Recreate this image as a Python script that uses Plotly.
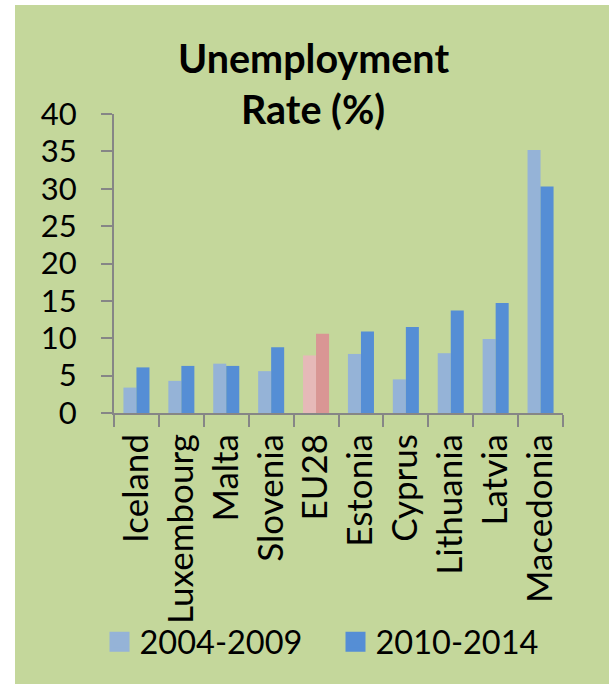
import plotly.graph_objects as go

countries = ["Iceland", "Luxembourg", "Malta", "Slovenia", "EU28", "Estonia",
             "Cyprus", "Lithuania", "Latvia", "Macedonia"]
rate_2004_2009 = [3.4, 4.3, 6.6, 5.6, 7.7, 7.9, 4.5, 8.0, 9.9, 35.2]
rate_2010_2014 = [6.1, 6.3, 6.3, 8.8, 10.6, 10.9, 11.5, 13.7, 14.7, 30.3]
series_names = ["2004-2009", "2010-2014"]
y_ticks = [0, 5, 10, 15, 20, 25, 30, 35, 40]

light_blue = "#95B3D7"
dark_blue = "#558ED5"
light_red = "#E6B9B8"
dark_red = "#D99694"
green = "#C4D79B"

c1 = [light_red if c == "EU28" else light_blue for c in countries]
c2 = [dark_red if c == "EU28" else dark_blue for c in countries]

W, H = 609, 684
L, R, T, B = 114, 46, 114, 271
pw = W - L - R
ph = H - T - B

def px_x(x):
    return (x - L) / pw

def px_y(y):
    return (H - B - y) / ph

font = "Lato, Carlito, Calibri, sans-serif"

fig = go.Figure()
fig.add_bar(x=countries, y=rate_2004_2009, name=series_names[0],
            marker=dict(color=c1, line=dict(width=0)), showlegend=False)
fig.add_bar(x=countries, y=rate_2010_2014, name=series_names[1],
            marker=dict(color=c2, line=dict(width=0)), showlegend=False)
# legend entries (square swatches)
for name, col in zip(series_names, [light_blue, dark_blue]):
    fig.add_scatter(x=[countries[0]], y=[None], mode="markers", name=name,
                    marker=dict(symbol="square", size=16, color=col,
                                line=dict(color=col, width=4)),
                    hoverinfo="skip")

fig.update_layout(
    width=W, height=H,
    margin=dict(l=L, r=R, t=T, b=B),
    paper_bgcolor="white",
    plot_bgcolor=green,
    barmode="group",
    bargap=0.42,
    bargroupgap=0,
    font=dict(family=font, size=31, color="black"),
    showlegend=True,
    legend=dict(orientation="h", x=px_x(99.5), xanchor="left",
                y=px_y(642), yanchor="middle",
                bgcolor="rgba(0,0,0,0)", font=dict(size=32.5),
                itemwidth=30, entrywidth=191, entrywidthmode="pixels",
                tracegroupgap=0, itemsizing="trace"),
    shapes=[dict(type="rect", xref="paper", yref="paper",
                 x0=px_x(15), x1=px_x(W + 5), y0=px_y(H + 5), y1=px_y(5),
                 fillcolor=green, line=dict(width=0), layer="below")],
    annotations=[
        dict(text="<b>Unemployment</b>", xref="paper", yref="paper",
             x=px_x(313), y=px_y(58), xanchor="center", yanchor="middle",
             showarrow=False, font=dict(size=39.5)),
        dict(text="<b>Rate (%)</b>", xref="paper", yref="paper",
             x=px_x(313), y=px_y(108), xanchor="center", yanchor="middle",
             showarrow=False, font=dict(size=39.5)),
    ],
)

fig.update_yaxes(range=[0, 40], tickvals=y_ticks, showgrid=False,
                 showline=True, linecolor="#868686", linewidth=2,
                 ticks="outside", ticklen=11, tickcolor="#868686", tickwidth=2,
                 ticklabelstandoff=18, zeroline=False, fixedrange=True)
fig.update_xaxes(range=[-0.5, len(countries) - 0.5], autorange=False,
                 showgrid=False, showline=True, linecolor="#868686", linewidth=2,
                 ticks="outside", ticklen=12, tickcolor="#868686", tickwidth=2,
                 tickson="boundaries", tickangle=-90, ticklabelstandoff=5,
                 tickfont=dict(size=35), fixedrange=True)

fig.write_html("out.html")
